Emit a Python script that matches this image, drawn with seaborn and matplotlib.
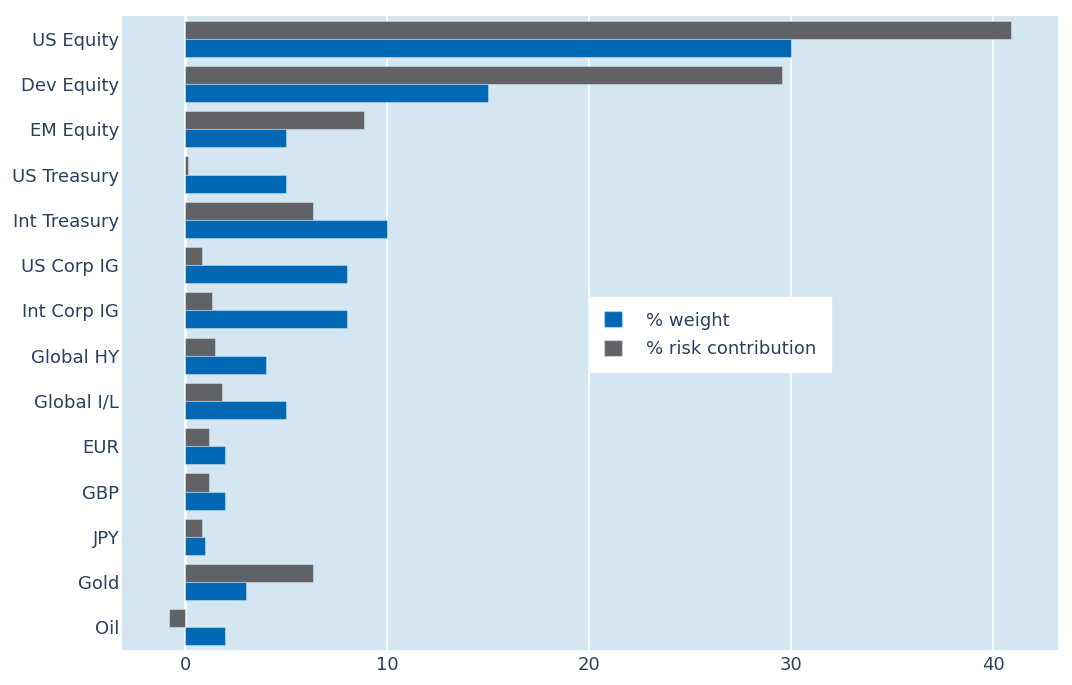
import pandas as pd
import matplotlib.pyplot as plt
import seaborn as sns
from matplotlib.patches import Patch

# data

assets = ['US Equity', 'Dev Equity', 'EM Equity', 'US Treasury', 'Int Treasury',
          'US Corp IG', 'Int Corp IG', 'Global HY', 'Global I/L', 'EUR', 'GBP',
          'JPY', 'Gold', 'Oil']
weight = [30, 15, 5, 5, 10, 8, 8, 4, 5, 2, 2, 1, 3, 2]
risk = [40.9, 29.55, 8.85, 0.15, 6.35, 0.85, 1.35, 1.5, 1.85, 1.2, 1.2, 0.85, 6.35, -0.8]

blue = '#0068b5'
grey = '#616265'
txt = '#2a3f5f'

df = pd.concat([
    pd.DataFrame({'asset': assets, 'value': risk, 'series': '% risk contribution'}),
    pd.DataFrame({'asset': assets, 'value': weight, 'series': '% weight'}),
])

sns.set_style('white')
plt.rcParams['font.family'] = ['DejaVu Sans']

fig = plt.figure(figsize=(10.72, 6.85), dpi=100)
ax = fig.add_axes([0.1138, 0.0511, 0.8731, 0.9255])
ax.set_facecolor('#d4e6f1')

sns.barplot(data=df, x='value', y='asset', hue='series', order=assets,
            hue_order=['% risk contribution', '% weight'],
            palette={'% risk contribution': grey, '% weight': blue},
            saturation=1, orient='h', width=0.8, ax=ax, legend=False,
            edgecolor=(1, 1, 1, 0.35), linewidth=0.8, zorder=3)

ax.set_xlim(-3.12, 43.2)
ax.set_ylim(13.5, -0.5)
ax.set_xticks([0, 10, 20, 30, 40])
ax.grid(axis='x', color='white', linewidth=1.1, zorder=1)
ax.grid(axis='y', visible=False)
ax.axvline(0, color='white', linewidth=2, zorder=2)
ax.set_axisbelow(True)
for s in ax.spines.values():
    s.set_visible(False)
ax.set_xlabel('')
ax.set_ylabel('')
ax.tick_params(axis='both', length=0, labelsize=13, labelcolor=txt)
ax.tick_params(axis='x', pad=4)
ax.tick_params(axis='y', pad=2)

# legend built by hand so that weight comes first

handles = [Patch(facecolor=blue, edgecolor=(1, 1, 1, 0.35)),
           Patch(facecolor=grey, edgecolor=(1, 1, 1, 0.35))]
leg = ax.legend(handles, ['% weight', '% risk contribution'],
                loc='upper left', bbox_to_anchor=(0.5, 0.557),
                frameon=True, fancybox=False, framealpha=1,
                facecolor='white', edgecolor='white',
                fontsize=13, labelcolor=txt, handlelength=1.0, handleheight=1.0,
                handletextpad=1.3, borderpad=0.8, labelspacing=0.55,
                borderaxespad=0)
leg.set_zorder(5)

fig.savefig('out.png', dpi=100)
